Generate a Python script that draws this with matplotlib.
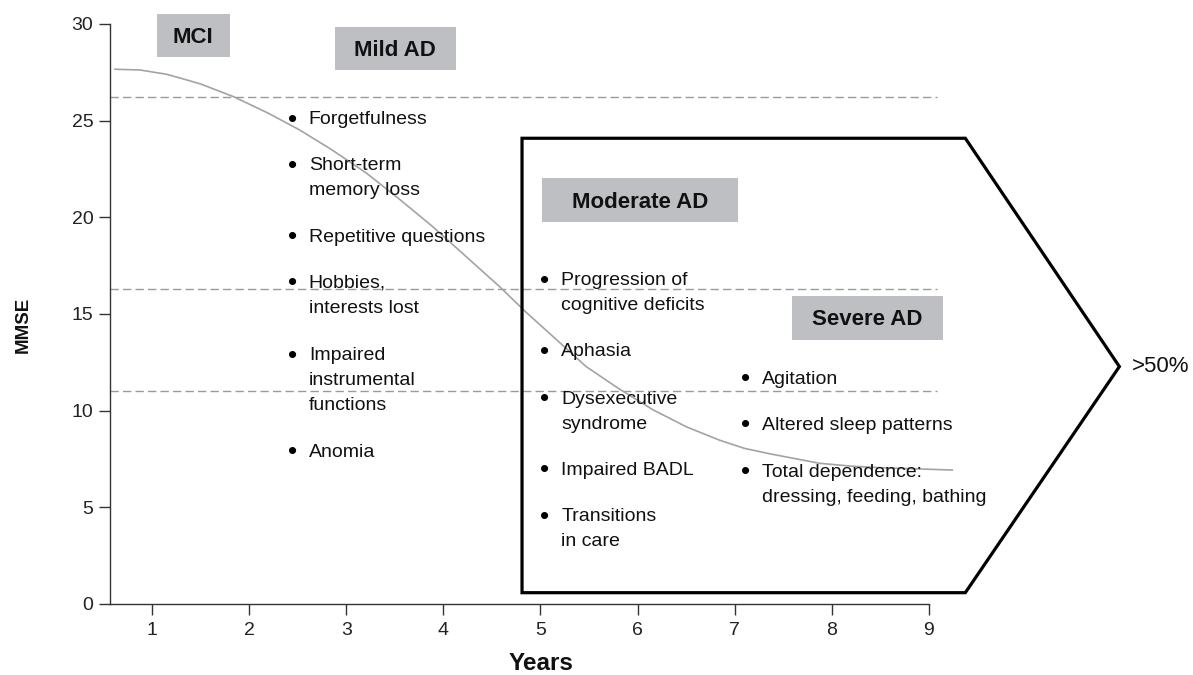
import matplotlib
matplotlib.use('Agg')
import matplotlib.pyplot as plt
from matplotlib.patches import Rectangle, Polygon

plt.rcParams['font.family'] = ['Liberation Sans', 'DejaVu Sans']

# MMSE decline over time
years = [0.62, 0.88, 1.15, 1.3, 1.5, 1.84, 2.2, 2.52, 2.85, 3.21, 3.55, 3.89, 4.25, 4.58,
         4.85, 5.13, 5.47, 5.8, 6.16, 6.5, 6.84, 7.1, 7.35, 7.87, 8.2, 8.5, 9.24]
mmse = [27.66, 27.62, 27.4, 27.19, 26.9, 26.24, 25.38, 24.52, 23.5, 22.28, 20.93, 19.52, 17.9, 16.41,
        15.1, 13.83, 12.28, 11.16, 10.04, 9.17, 8.48, 8.05, 7.78, 7.28, 7.13, 7.05, 6.93]

# stage thresholds (dashed lines)
thresholds = [26.2, 16.3, 11.0]

x_ticks = [1, 2, 3, 4, 5, 6, 7, 8, 9]
y_ticks = [0, 5, 10, 15, 20, 25, 30]

stages = ['MCI', 'Mild AD', 'Moderate AD', 'Severe AD']

mild_symptoms = ['Forgetfulness', 'Short-term\nmemory loss', 'Repetitive questions',
                 'Hobbies,\ninterests lost', 'Impaired\ninstrumental\nfunctions', 'Anomia']
moderate_symptoms = ['Progression of\ncognitive deficits', 'Aphasia', 'Dysexecutive\nsyndrome',
                     'Impaired BADL', 'Transitions\nin care']
severe_symptoms = ['Agitation', 'Altered sleep patterns',
                   'Total dependence:\ndressing, feeding, bathing']
share_label = '>50%'

# ---- layout ----
W, H = 1193, 675
fig = plt.figure(figsize=(W / 100, H / 100), dpi=100)
ax = fig.add_axes([110 / W, 1 - 604 / H, (929 - 110) / W, (604 - 24) / H])
ax.set_xlim(0.568, 9)
ax.set_ylim(0, 30)
for s in ['top', 'right']:
    ax.spines[s].set_visible(False)
for s in ['left', 'bottom']:
    ax.spines[s].set_color('#333333')
    ax.spines[s].set_linewidth(1.0)
ax.set_xticks(x_ticks)
ax.set_yticks(y_ticks)
ax.tick_params(direction='out', length=8, width=1, color='#333333',
               labelsize=14, labelcolor='#222222')
ax.tick_params(axis='y', pad=4)
ax.tick_params(axis='x', pad=5)

# dashed threshold lines
for t in thresholds:
    ax.plot([0.568, 9.08], [t, t], color='#9a9a9a', lw=1.0, dashes=(6, 3), clip_on=False)

# curve
ax.plot(years, mmse, color='#a3a3a3', lw=1.2, clip_on=False, zorder=3,
        solid_joinstyle='round')

# stage boxes (x0, x1, y0, y1)
box_pos = [(1.05, 1.80, 28.3, 30.52), (2.88, 4.13, 27.63, 29.87),
           (5.015, 7.03, 19.75, 22.02), (7.59, 9.14, 13.66, 15.93)]
for name, (x0, x1, y0, y1) in zip(stages, box_pos):
    ax.add_patch(Rectangle((x0, y0), x1 - x0, y1 - y0, facecolor='#bebfc3',
                           edgecolor='none', clip_on=False, zorder=2))
    ax.text((x0 + x1) / 2, (y0 + y1) / 2 - 0.1, name, ha='center', va='center',
            fontsize=16, fontweight='bold', color='#111111', zorder=4)

# pentagon arrow outline
arrow = Polygon([(4.81, 24.09), (9.374, 24.09), (10.96, 12.28), (9.374, 0.585), (4.81, 0.585)],
                closed=True, fill=False, edgecolor='black', lw=2.3, clip_on=False,
                joinstyle='miter', zorder=5)
ax.add_patch(arrow)
ax.text(11.09, 12.3, share_label, ha='left', va='center', fontsize=16, color='#111111')

# symptom lists
step = 25 / 19.33
cap = 7 / 19.33


def draw_list(items, ys, bx, tx):
    for item, y in zip(items, ys):
        ax.text(bx, y - cap - 0.12, '\u2022', ha='center', va='baseline', fontsize=19,
                color='#000000', zorder=4)
        for i, line in enumerate(item.split('\n')):
            ax.text(tx, y - cap - i * step, line, ha='left', va='baseline',
                    fontsize=14, color='#111111', zorder=4)


draw_list(mild_symptoms, [25.17, 22.80, 19.09, 16.71, 12.97, 7.97], 2.45, 2.615)
draw_list(moderate_symptoms, [16.85, 13.17, 10.73, 7.05, 4.64], 5.04, 5.215)
draw_list(severe_symptoms, [11.76, 9.38, 6.93], 7.11, 7.28)

fig.text(23.5 / W, 1 - 325 / H, 'MMSE', rotation=90, ha='center', va='center',
         fontsize=13.5, fontweight='bold', color='#111111')
fig.text(541 / W, 1 - 664 / H, 'Years', ha='center', va='center',
         fontsize=17.5, fontweight='bold', color='#111111')

fig.savefig('out.png', dpi=100)
